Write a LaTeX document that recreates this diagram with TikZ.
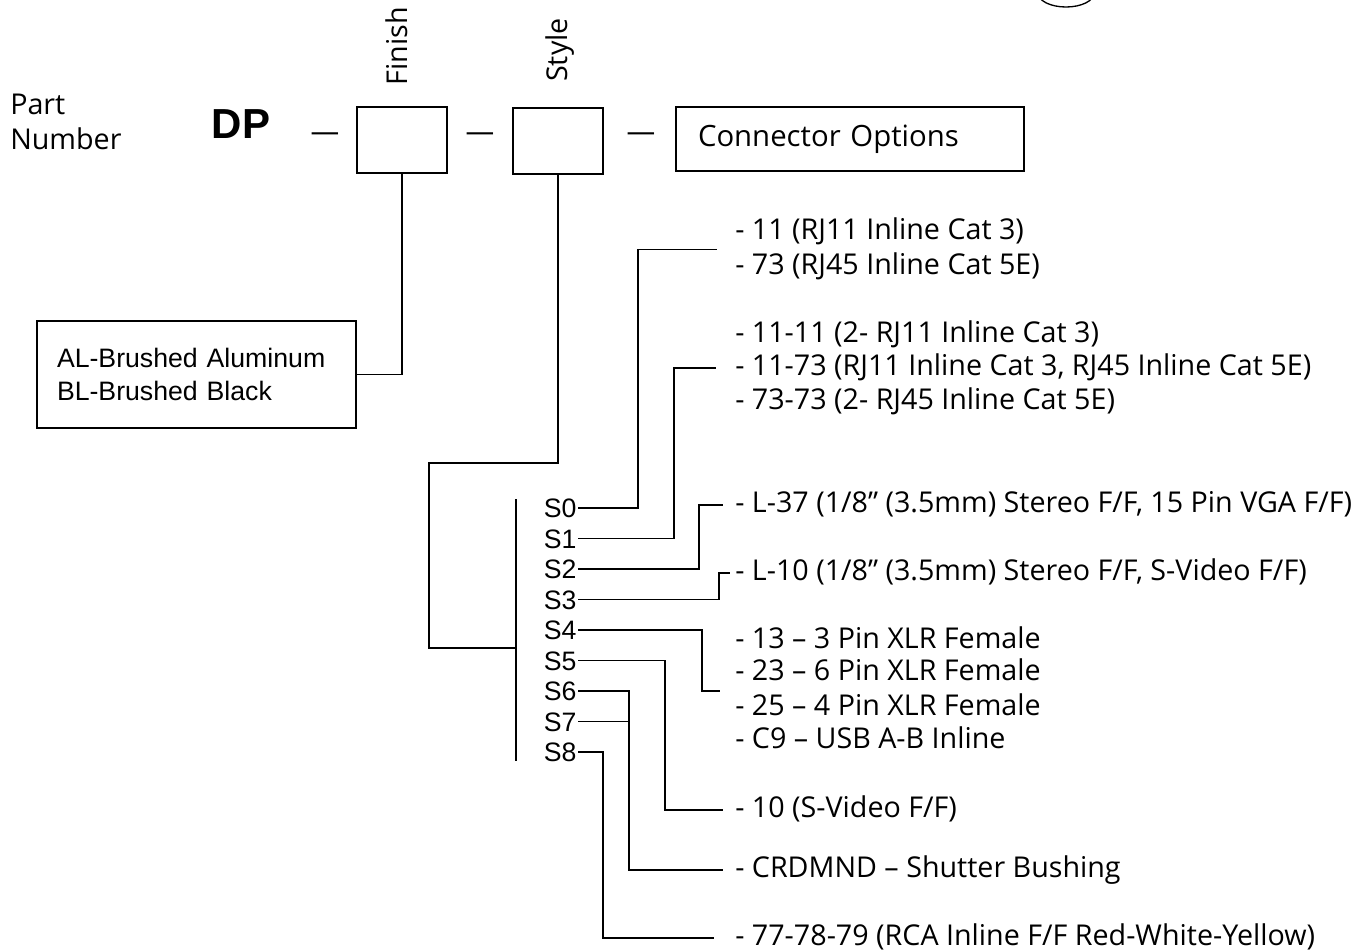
\documentclass[tikz,border=0pt]{standalone}
\usepackage{fontspec}
\setmainfont{Open Sans}
\newfontfamily\arialfont{Liberation Sans}
\usetikzlibrary{calc}

\begin{document}
\begin{tikzpicture}[x=0.75pt, y=-0.75pt,
    sqbox/.style={draw, line width=1.4pt, minimum width=68pt, minimum height=50pt},
    hdr/.style={font=\fontsize{21.5}{24}\selectfont, inner sep=0pt},
    opt/.style={font=\fontsize{21.5}{24}\selectfont, anchor=west, inner sep=0pt,
                text height=11.6pt, text depth=0pt},
    slbl/.style={font=\arialfont\fontsize{20}{24}\selectfont, anchor=east,
                 inner xsep=1pt, inner ysep=0pt, text height=14.3pt, text depth=0pt},
    wire/.style={line width=1.4pt}
  ]
  \useasboundingbox (0,0) rectangle (1362,951);

  % part number row
  \node[hdr, anchor=west, align=left, font=\fontsize{21.5}{26}\selectfont] (pn) at (10,122) {Part\\Number};
  \node[inner sep=0pt, font=\arialfont\bfseries\fontsize{31.5}{36}\selectfont] (dp) at (241,124) {DP};
  \node[hdr] (dash1) at (325,137) {—};
  \node[sqbox] (finish) at (402,140) {};
  \node[hdr] (dash2) at (480,137) {—};
  \node[sqbox] (style) at (558,141) {};
  \node[hdr] (dash3) at (641,137) {—};
  \node[draw, line width=1.4pt, minimum width=261pt, minimum height=48pt,
        inner xsep=16.5pt, text width=228pt, align=left,
        font=\fontsize{22}{24}\selectfont] (conn) at (850,139) {Connector Options};
  \node[hdr, rotate=90] (finlbl) at (397,46) {Finish};
  \node[hdr, rotate=90] (stylbl) at (560,50) {Style};

  % finish choices
  \node[draw, line width=1.4pt, minimum width=239.25pt, minimum height=80.25pt,
        inner xsep=15pt, text width=209.25pt, align=left,
        font=\arialfont\fontsize{20}{24.75}\selectfont] (albl) at (196.5,374.5)
        {AL-Brushed Aluminum\\BL-Brushed Black};
  \draw[wire] (finish.south) |- (albl.east);

  % style codes
  \foreach \i in {0,...,8}
    \node[slbl] (s\i) at (578,508+30.5*\i) {S\i};
  \coordinate (bartop) at (516,499);
  \coordinate (barbot) at (516,761);
  \draw[wire] (bartop) -- (barbot);
  \coordinate (bend) at (429,463);
  \draw[wire] (style.south) |- (bend) |- ($(bartop)!0.57!(barbot)$);

  % connector options
  \node[opt] (o11)   at (735,232) {- 11 (RJ11 Inline Cat 3)};
  \node[opt] (o73)   at (735,267) {- 73 (RJ45 Inline Cat 5E)};
  \node[opt] (o1111) at (735,335) {- 11-11 (2- RJ11 Inline Cat 3)};
  \node[opt] (o1173) at (735,368) {- 11-73 (RJ11 Inline Cat 3, RJ45 Inline Cat 5E)};
  \node[opt] (o7373) at (735,402) {- 73-73 (2- RJ45 Inline Cat 5E)};
  \node[opt] (ol37)  at (735,505) {- L-37 (1/8" (3.5mm) Stereo F/F, 15 Pin VGA F/F)};
  \node[opt] (ol10)  at (735,573) {- L-10 (1/8" (3.5mm) Stereo F/F, S-Video F/F)};
  \node[opt] (o13)   at (735,641) {- 13 – 3 Pin XLR Female};
  \node[opt] (o23)   at (735,673) {- 23 – 6 Pin XLR Female};
  \node[opt] (o25)   at (735,708) {- 25 – 4 Pin XLR Female};
  \node[opt] (oc9)   at (735,741) {- C9 – USB A-B Inline};
  \node[opt] (o10)   at (735,810) {- 10 (S-Video F/F)};
  \node[opt] (ocrd)  at (735,870) {- CRDMND – Shutter Bushing};
  \node[opt] (o77)   at (735,938) {- 77-78-79 (RCA Inline F/F Red-White-Yellow)};

  \coordinate (g0) at ($(o11.west)!0.5!(o73.west)$);
  \coordinate (g4) at ($(o13.west)!0.5!(oc9.west)$);
  \draw[wire] (s0.east) -- ++(60,0)  |- ([xshift=-13.5pt]g0);
  \draw[wire] (s1.east) -- ++(96,0)  |- ([xshift=-14pt]o1173.west);
  \draw[wire] (s2.east) -- ++(121,0) |- ([xshift=-9pt]ol37.west);
  \draw[wire] (s3.east) -- ++(141,0) |- ([xshift=-4pt]ol10.west);
  \draw[wire] (s4.east) -- ++(124,0) |- ([xshift=-11pt]g4);
  \draw[wire] (s5.east) -- ++(87,0)  |- ([xshift=-9pt]o10.west);
  \draw[wire] (s6.east) -- ++(51,0)  |- ([xshift=-9pt]ocrd.west);
  \draw[wire] (s7.east) -- ++(51,0);
  \draw[wire] (s8.east) -- ++(25,0)  |- ([xshift=-16pt]o77.west);

  % edge of a shape cut by the top border
  \draw[line width=1pt] (1066,-7) ellipse [x radius=21pt, y radius=10.5pt];
\end{tikzpicture}
\end{document}
